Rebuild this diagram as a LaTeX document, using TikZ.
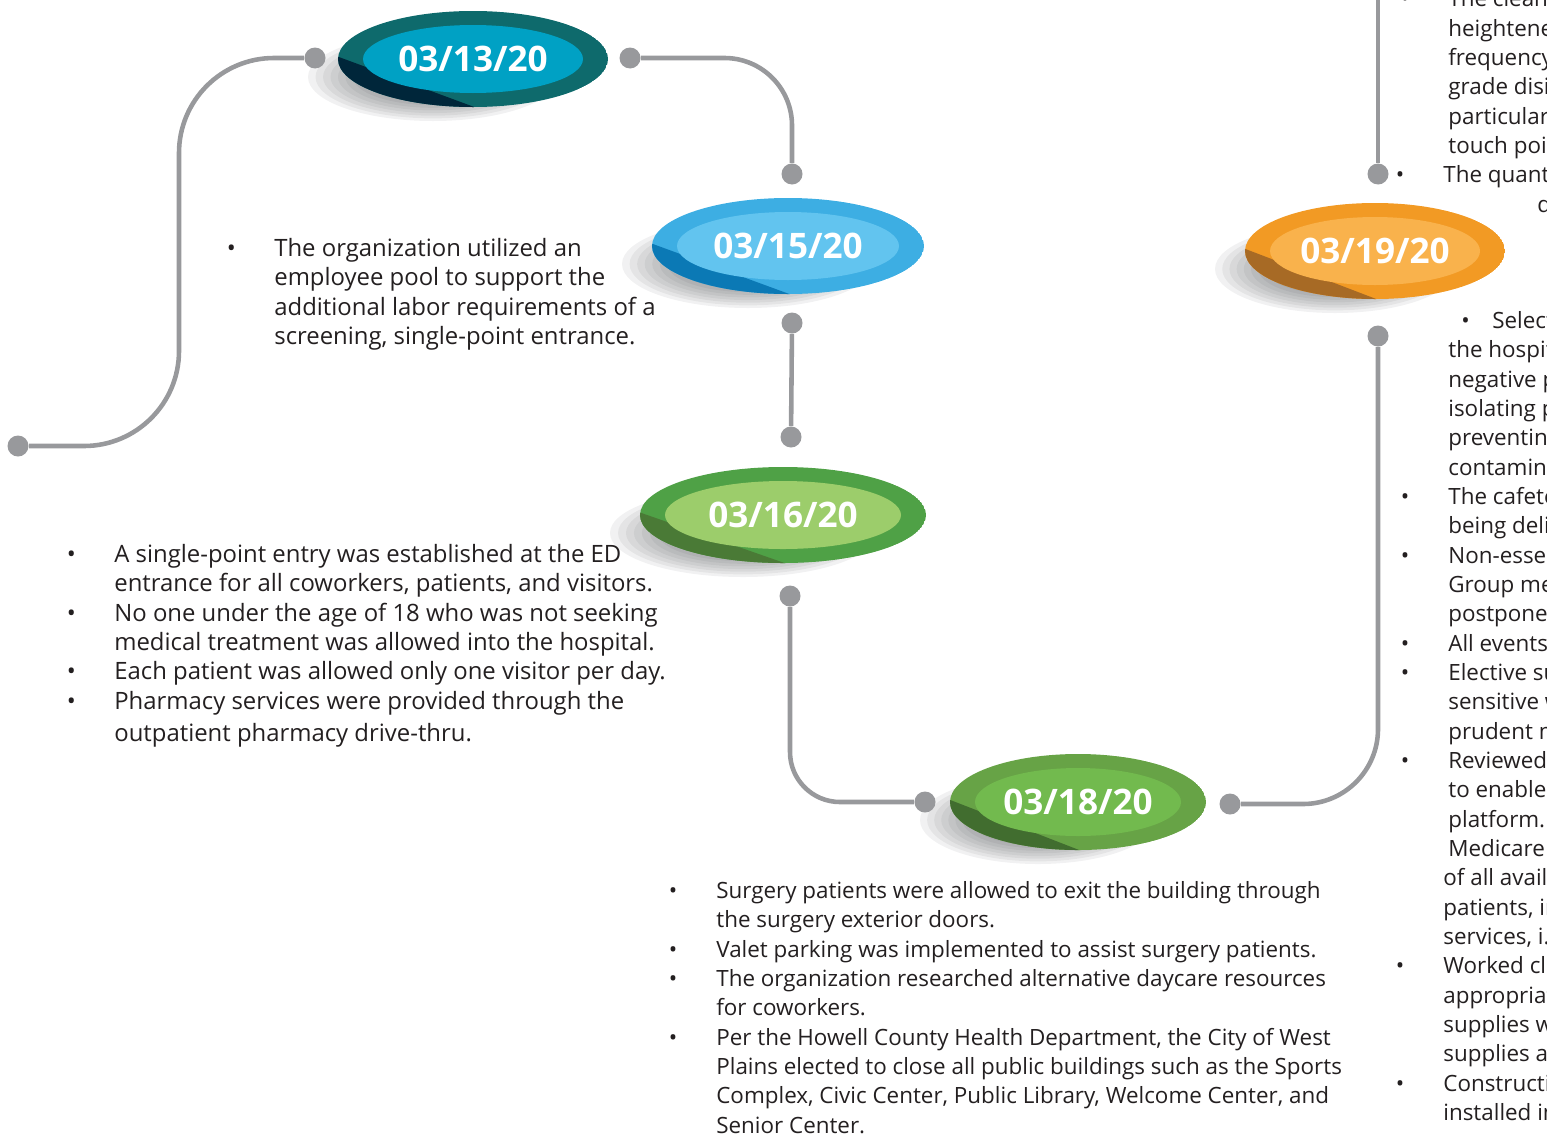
\documentclass[tikz,border=0pt]{standalone}
\usepackage{fontspec}
\setmainfont{Open Sans}
\usepackage{xcolor}
\usepackage{tikz}
\usetikzlibrary{calc}

\definecolor{linegrey}{HTML}{98999C}
\definecolor{textdark}{HTML}{231F20}
\definecolor{shadegrey}{HTML}{3A3D42}
\definecolor{tealout}{HTML}{0E6A6C}
\definecolor{tealin}{HTML}{00A1C4}
\definecolor{tealdark}{HTML}{00263A}
\definecolor{skyout}{HTML}{3DAEE3}
\definecolor{skyin}{HTML}{62C4EF}
\definecolor{skydark}{HTML}{0B79B5}
\definecolor{leafout}{HTML}{4FA146}
\definecolor{leafin}{HTML}{9CCD6B}
\definecolor{leafdark}{HTML}{4A7A36}
\definecolor{grassout}{HTML}{67A346}
\definecolor{grassin}{HTML}{72BA4E}
\definecolor{grassdark}{HTML}{416D2F}
\definecolor{sunout}{HTML}{F29A24}
\definecolor{sunin}{HTML}{F9B24C}
\definecolor{sundark}{HTML}{A76A25}

% bullet hanging left of the text column
\newcommand{\tlbullet}{\llap{\makebox[0.95cm][l]{•}}}

% one date bubble: name, centre, outer x radius, colour, date
\newcommand{\datebubble}[5]{%
  \foreach \k in {0,...,7}
    \fill[shadegrey, opacity=0.07] ($#2+(-40,-18)$) ellipse [x radius={(#3-10)*(1-0.06*\k)}, y radius={44*(1-0.06*\k)}];
  \begin{scope}
    \clip #2 ellipse [x radius=#3, y radius=48];
    \fill[#4out] #2 ellipse [x radius=#3, y radius=48];
    \fill[#4dark] ($#2+(-#3-10,6)$) -- ($#2+(0.25*#3,-60)$) -- ($#2+(-#3-10,-60)$) -- cycle;
  \end{scope}
  \fill[#4in] #2 ellipse [x radius=#3-25, y radius=34];
  \node[datetext] (#1) at #2 {#5};
}

\begin{document}
\begin{tikzpicture}[x=0.02cm, y=0.02cm,
  link/.style={draw=linegrey, line width=2.6pt},
  dot/.style={circle, fill=linegrey, inner sep=0pt, minimum size=0.42cm},
  datetext/.style={text=white, font=\fontsize{20}{24}\selectfont\bfseries},
  txt/.style={text=textdark, font=\fontsize{13.6}{16.7}\selectfont, align=left, inner sep=0pt, anchor=north west},
  smalltxt/.style={txt, font=\fontsize{12.75}{16.7}\selectfont}]
  \useasboundingbox (0,0) rectangle (1547,-1136);
  \clip (0,0) rectangle (1547,-1136);

  % date bubbles
  \datebubble{b13}{(473,-59)}{135}{teal}{03/13/20}
  \datebubble{b15}{(788,-246)}{136}{sky}{03/15/20}
  \datebubble{b16}{(783,-515)}{143}{leaf}{03/16/20}
  \datebubble{b18}{(1078,-802)}{128}{grass}{03/18/20}
  \datebubble{b19}{(1375,-251)}{130}{sun}{03/19/20}

  % connector ends
  \node[dot] (dl) at (18,-446) {};
  \node[dot] (d13w) at (315,-58) {};
  \node[dot] (d13e) at (630,-58) {};
  \node[dot] (d15n) at (792,-174) {};
  \node[dot] (d15s) at (792,-323) {};
  \node[dot] (d16n) at (791,-437) {};
  \node[dot] (d16s) at (790,-596) {};
  \node[dot] (d18w) at (925,-802) {};
  \node[dot] (d18e) at (1230,-804) {};
  \node[dot] (d19s) at (1378,-336) {};
  \node[dot] (d19n) at (1378,-174) {};
  \coordinate (top) at (1378,10);

  \draw[link, rounded corners=1.9cm] (dl) -| (179,-58) -- (d13w);
  \draw[link, rounded corners=1.35cm] (d13e) -| (d15n);
  \draw[link] (d15s) -- (d16n);
  \draw[link, rounded corners=1.0cm] (d16s) |- (d18w);
  \draw[link, rounded corners=1.5cm] (d18e) -| (d19s);
  \draw[link] (top) -- (d19n);

  % texts
  \node[txt] (t15) at (274,-235.5) {\strut\tlbullet The organization utilized an\\
    employee pool to support the\\
    additional labor requirements of a\\
    screening, single-point entrance.};

  \node[txt] (t16) at (114,-541.5) {\strut\tlbullet A single-point entry was established at the ED\\
    entrance for all coworkers, patients, and visitors.\\
    \tlbullet No one under the age of 18 who was not seeking\\
    medical treatment was allowed into the hospital.\\
    \tlbullet Each patient was allowed only one visitor per day.\\
    \tlbullet Pharmacy services were provided through the\\[1.5pt]
    outpatient pharmacy drive-thru.};

  \node[smalltxt] (t18) at (716,-877.5) {\strut\tlbullet Surgery patients were allowed to exit the building through\\
    the surgery exterior doors.\\
    \tlbullet Valet parking was implemented to assist surgery patients.\\
    \tlbullet The organization researched alternative daycare resources\\
    for coworkers.\\
    \tlbullet Per the Howell County Health Department, the City of West\\
    Plains elected to close all public buildings such as the Sports\\
    Complex, Civic Center, Public Library, Welcome Center, and\\
    Senior Center.};

  \node[smalltxt] (t19a) at (1448,14) {\strut\tlbullet The cleaning\\
    heightened\\
    frequency\\
    grade disinfectant\\
    particularly\\
    touch points\\
    \hspace*{-0.1cm}\tlbullet The quantity\\
    \hspace*{1.78cm}d};

  \node[smalltxt] (t19b) at (1448,-307.5) {\strut\hspace*{0.26cm}\makebox[0.62cm][l]{•}Selected\\
    the hospital\\
    negative pressure\\
    isolating patients\\
    preventing\\
    contamination\\
    \tlbullet The cafeteria\\
    being delivered\\
    \tlbullet Non-essential\\
    Group meetings\\
    postponed\\
    \tlbullet All events\\
    \tlbullet Elective surgeries\\
    sensitive were\\
    prudent measure\\
    \tlbullet Reviewed\\
    to enable\\
    platform.\\
    Medicare\\
    \hspace*{-0.1cm}of all available\\
    \hspace*{-0.1cm}patients, including\\
    \hspace*{-0.1cm}services, i.e.\\
    \hspace*{-0.1cm}\tlbullet Worked closely\\
    \hspace*{-0.1cm}appropriate\\
    \hspace*{-0.1cm}supplies were\\
    \hspace*{-0.1cm}supplies and\\
    \hspace*{-0.1cm}\tlbullet Construction\\
    \hspace*{-0.1cm}installed in};
\end{tikzpicture}
\end{document}
